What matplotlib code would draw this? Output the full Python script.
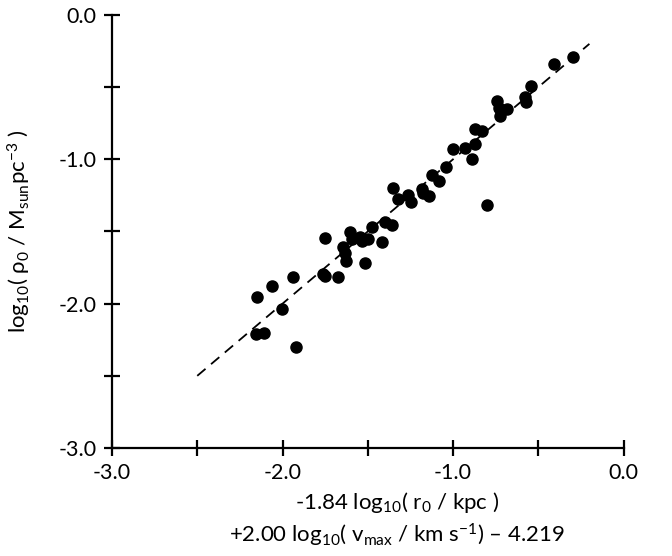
import matplotlib
matplotlib.use("Agg")
import matplotlib.pyplot as plt
from matplotlib.ticker import MultipleLocator, FixedLocator

# ---- data ----
x_vals = [-0.294, -0.408, -0.544, -0.578, -0.572, -0.744, -0.685, -0.724, -0.730,
          -0.871, -0.832, -0.871, -0.930, -1.002, -0.890, -1.041, -1.125, -1.082,
          -1.350, -1.321, -1.264, -1.246, -1.184, -1.174, -1.141, -0.802, -1.399,
          -1.360, -1.475, -1.418, -1.604, -1.594, -1.545, -1.535, -1.497, -1.751,
          -1.643, -1.633, -1.628, -1.516, -1.751, -1.761, -1.673, -1.940, -2.063,
          -2.151, -2.005, -2.157, -2.107, -1.923]
y_vals = [-0.293, -0.342, -0.490, -0.570, -0.601, -0.596, -0.651, -0.700, -0.644,
          -0.792, -0.802, -0.894, -0.920, -0.931, -1.000, -1.055, -1.109, -1.150,
          -1.197, -1.277, -1.247, -1.294, -1.208, -1.236, -1.254, -1.317, -1.432,
          -1.455, -1.467, -1.571, -1.502, -1.554, -1.536, -1.564, -1.554, -1.547,
          -1.610, -1.651, -1.703, -1.717, -1.809, -1.795, -1.814, -1.814, -1.878,
          -1.956, -2.037, -2.211, -2.206, -2.299]
fit_x = [-2.5, -0.2]
fit_y = [-2.5, -0.2]
tick_values = [-3.0, -2.0, -1.0, 0.0]
tick_labels = ["-3.0", "-2.0", "-1.0", "0.0"]

plt.rcParams['font.family'] = ['Lato', 'DejaVu Sans']
plt.rcParams['mathtext.fontset'] = 'custom'
plt.rcParams['mathtext.rm'] = 'Lato'
plt.rcParams['mathtext.it'] = 'Lato:italic'
plt.rcParams['mathtext.bf'] = 'Lato:bold'
plt.rcParams['axes.unicode_minus'] = False

fig = plt.figure(figsize=(6.72, 5.56), dpi=100)
ax = fig.add_axes([112/672, 1-448/556, (623.5-112)/672, (448-15)/556])

ax.plot(fit_x, fit_y, color='black', lw=1.3, dashes=(6, 4), zorder=2)
ax.plot(x_vals, y_vals, 'o', color='black', markersize=8, zorder=3)

ax.set_xlim(-3.0, 0.0)
ax.set_ylim(-3.0, 0.0)
for s in ['top', 'right']:
    ax.spines[s].set_visible(False)
for s in ['left', 'bottom']:
    ax.spines[s].set_linewidth(1.6)

ax.xaxis.set_major_locator(FixedLocator(tick_values))
ax.yaxis.set_major_locator(FixedLocator(tick_values))
ax.set_xticklabels(tick_labels)
ax.set_yticklabels(tick_labels)
ax.xaxis.set_minor_locator(MultipleLocator(0.5))
ax.yaxis.set_minor_locator(MultipleLocator(0.5))
ax.tick_params(which='both', direction='inout', length=12, width=1.6, colors='black',
               labelsize=15.5)
ax.tick_params(axis='x', pad=5)
ax.tick_params(axis='y', pad=5)

xlabel = ("-1.84 log$_\\mathregular{10}$( r$_\\mathregular{0}$ / kpc )\n"
          "+2.00 log$_\\mathregular{10}$( v$_\\mathregular{max}$ / km s$^\\mathregular{\u22121}$) \u2013 4.219")
ax.set_xlabel(xlabel, fontsize=16, linespacing=1.35, ha='center', va='top')
ax.xaxis.set_label_coords(285/511.5, -42/433)

ylabel = "log$_\\mathregular{10}$( \u03c1$_\\mathregular{0}$ / M$_\\mathregular{sun}$pc$^\\mathregular{\u22123}$ )"
ax.set_ylabel(ylabel, fontsize=16)
ax.yaxis.set_label_coords(-(112-33)/511.5, 0.5)

fig.savefig("out.png", dpi=100)
